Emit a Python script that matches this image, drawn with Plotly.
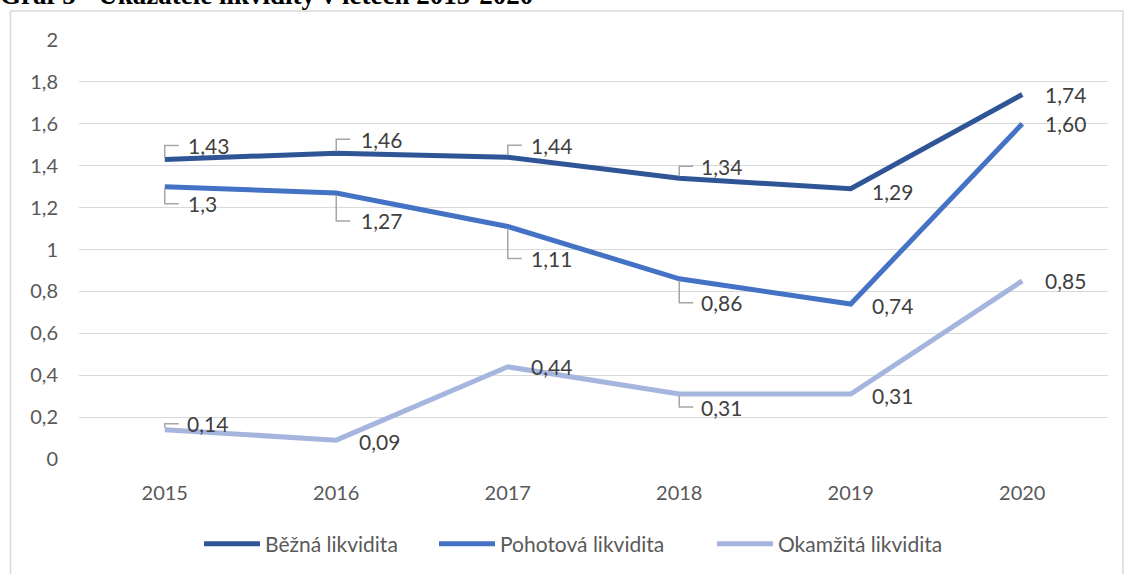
import plotly.graph_objects as go

# ---- data ----
years = [2015, 2016, 2017, 2018, 2019, 2020]
bezna = [1.43, 1.46, 1.44, 1.34, 1.29, 1.74]
pohotova = [1.30, 1.27, 1.11, 0.86, 0.74, 1.60]
okamzita = [0.14, 0.09, 0.44, 0.31, 0.31, 0.85]
bezna_labels = ["1,43", "1,46", "1,44", "1,34", "1,29", "1,74"]
pohotova_labels = ["1,3", "1,27", "1,11", "0,86", "0,74", "1,60"]
okamzita_labels = ["0,14", "0,09", "0,44", "0,31", "0,31", "0,85"]
series_names = ["Běžná likvidita", "Pohotová likvidita", "Okamžitá likvidita"]
y_ticks = [0, 0.2, 0.4, 0.6, 0.8, 1.0, 1.2, 1.4, 1.6, 1.8, 2.0]
y_tick_labels = ["0", "0,2", "0,4", "0,6", "0,8", "1", "1,2", "1,4", "1,6", "1,8", "2"]
title_text = "Graf 5 - Ukazatele likvidity v letech 2015-2020"

# ---- styles ----
colors = ["#2F5597", "#4472C4", "#A5B5DE"]
# label offsets in pixels (dx right, dy up) relative to each point
offsets = [
    [(24, 14), (26, 14), (24, 12), (23, 12), (22, -3), (24, 0)],
    [(24, -17), (26, -28), (24, -32), (23, -24), (22, -2), (24, 0)],
    [(23, 6), (24, -1), (24, 0), (23, -13), (22, -1), (24, 0)],
]
legend_px = [205, 440, 718]  # left edge of each legend entry's symbol
FONT = "Lato"
W, H = 1124, 574
ML, MR, MT, MB = 79, 16, 40, 115
PW, PH = W - ML - MR, H - MT - MB


def px_to_paper_x(px):
    return (px - ML) / PW


def px_to_paper_y(py):
    return (H - MB - py) / PH


fig = go.Figure()
all_vals = [bezna, pohotova, okamzita]
all_labels = [bezna_labels, pohotova_labels, okamzita_labels]
legend_ids = ["legend", "legend2", "legend3"]

for name, vals, col, lid in zip(series_names, all_vals, colors, legend_ids):
    fig.add_trace(go.Scatter(
        x=years, y=vals, mode="lines", name=name, legend=lid,
        line=dict(color=col, width=5, shape="linear"),
        hoverinfo="skip",
    ))

annotations = []
shapes = []
for vals, labels, offs in zip(all_vals, all_labels, offsets):
    for yr, v, lab, (dx, dy) in zip(years, vals, labels, offs):
        annotations.append(dict(
            x=yr, y=v, xref="x", yref="y", text=lab, showarrow=False,
            xanchor="left", yanchor="middle", xshift=dx - 3, yshift=dy,
            font=dict(family=FONT, size=21, color="#404040"),
        ))
        if abs(dy) >= 6:
            s = 1 if dy > 0 else -1
            shapes.append(dict(
                type="path", xref="x", yref="y",
                xsizemode="pixel", ysizemode="pixel",
                xanchor=yr, yanchor=v,
                path=f"M0,{s*2} L0,{dy} L14,{dy}",
                line=dict(color="#A6A6A6", width=1.5),
            ))

# chart border
shapes.append(dict(
    type="rect", xref="paper", yref="paper",
    x0=px_to_paper_x(10.5), x1=px_to_paper_x(1123), y0=px_to_paper_y(700), y1=px_to_paper_y(11),
    line=dict(color="#D9D9D9", width=1.5), fillcolor="rgba(0,0,0,0)", layer="below",
))

annotations.append(dict(
    text="<b>" + title_text + "</b>", xref="paper", yref="paper",
    x=px_to_paper_x(-2), y=px_to_paper_y(12), xanchor="left", yanchor="bottom",
    showarrow=False, font=dict(family="Liberation Serif", size=27, color="#000000"),
))

legend_layouts = {}
for lid, lpx in zip(legend_ids, legend_px):
    legend_layouts[lid] = dict(
        orientation="h", x=px_to_paper_x(lpx - 6), xanchor="left",
        y=px_to_paper_y(544), yanchor="middle",
        font=dict(family=FONT, size=21, color="#595959"),
        itemwidth=56, bgcolor="rgba(0,0,0,0)",
    )

fig.update_layout(
    width=W, height=H,
    margin=dict(l=ML, r=MR, t=MT, b=MB, autoexpand=False),
    paper_bgcolor="white", plot_bgcolor="white",
    separators=", ",
    showlegend=True,
    annotations=annotations,
    shapes=shapes,
    xaxis=dict(
        range=[years[0] - 0.5, years[-1] + 0.5],
        tickvals=years, ticktext=[str(y) for y in years],
        showgrid=False, zeroline=False, showline=False, ticks="",
        tickfont=dict(family=FONT, size=20, color="#595959"),
        ticklabelstandoff=20, fixedrange=True,
    ),
    yaxis=dict(
        range=[0, 2], tickvals=y_ticks, ticktext=y_tick_labels,
        showgrid=True, gridcolor="#D9D9D9", gridwidth=1.3,
        zeroline=False, showline=False, ticks="",
        tickfont=dict(family=FONT, size=20, color="#595959"),
        ticklabelstandoff=20, fixedrange=True,
    ),
    **legend_layouts,
)

fig.write_html(
    "out.html",
    config={"displayModeBar": False},
    post_script="document.body.style.margin='0';document.body.style.padding='0';",
)
